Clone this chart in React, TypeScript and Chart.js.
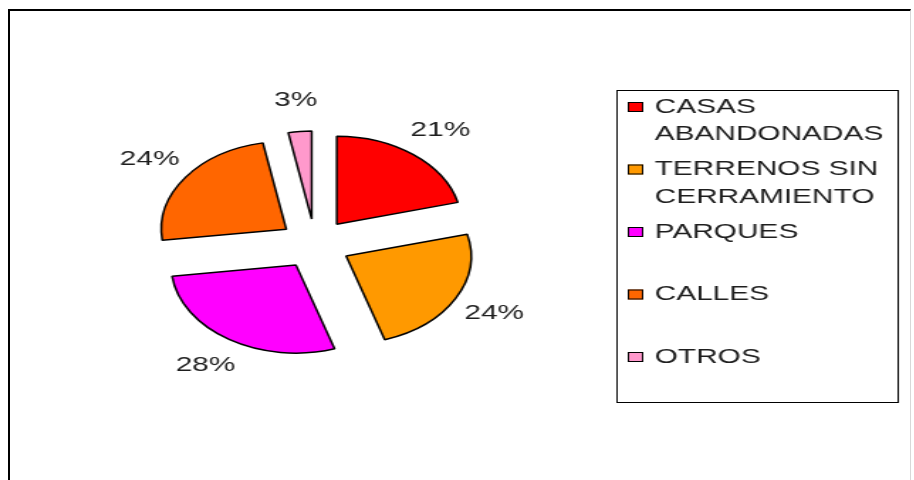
import React, { useEffect, useRef } from 'react';
import { Chart, registerables } from 'chart.js';

Chart.register(...registerables);

// ---- data ----
const CATEGORIES = ['CASAS ABANDONADAS', 'TERRENOS SIN CERRAMIENTO', 'PARQUES', 'CALLES', 'OTROS'];
const VALUES = [21, 24, 28, 24, 3];
const COLORS = ['#FF0000', '#FF9900', '#FF00FF', '#FF6600', '#FF99CC'];

// ---- layout / style ----
const STRETCH_X = 1.42; // the reference is horizontally stretched
const CANVAS_W = 638;
const CANVAS_H = 469;
const PIE_CX = 214.8;
const PIE_CY = 233;
const PIE_R = 88;
const EXPLODE = 25;
const LABEL_GAP = 31;
const FONT = '21px "Liberation Sans", Arial, sans-serif';
const TEXT_COLOR = '#1e1e1e';

const explodePlugin = {
  id: 'explodeSlices',
  beforeDatasetDraw(chart: any, args: any) {
    args.meta.data.forEach((el: any) => {
      if (el.__exploded) return;
      const base = el.draw.bind(el);
      el.draw = (ctx: CanvasRenderingContext2D, area: any) => {
        const mid = (el.startAngle + el.endAngle) / 2;
        ctx.save();
        ctx.translate(Math.cos(mid) * EXPLODE, Math.sin(mid) * EXPLODE);
        base(ctx, area);
        ctx.restore();
      };
      el.__exploded = true;
    });
  },
};

const pctLabelsPlugin = {
  id: 'pctLabels',
  afterDatasetsDraw(chart: any) {
    const ctx: CanvasRenderingContext2D = chart.ctx;
    const meta = chart.getDatasetMeta(0);
    const data: number[] = chart.data.datasets[0].data;
    const total = data.reduce((a, b) => a + b, 0);
    ctx.save();
    ctx.font = FONT;
    ctx.fillStyle = TEXT_COLOR;
    ctx.textAlign = 'center';
    ctx.textBaseline = 'middle';
    meta.data.forEach((arc: any, i: number) => {
      const { x, y, startAngle, endAngle, outerRadius } = arc.getProps(
        ['x', 'y', 'startAngle', 'endAngle', 'outerRadius'],
        true
      );
      const mid = (startAngle + endAngle) / 2;
      const r = outerRadius + EXPLODE + LABEL_GAP;
      ctx.fillText(Math.round((data[i] / total) * 100) + '%', x + Math.cos(mid) * r, y + Math.sin(mid) * r);
    });
    ctx.restore();
  },
};

const boxLegendPlugin = {
  id: 'boxLegend',
  afterDraw(chart: any) {
    const ctx: CanvasRenderingContext2D = chart.ctx;
    const labels: string[] = chart.data.labels;
    const colors: string[] = chart.data.datasets[0].backgroundColor;
    const boxL = 427.5, boxT = 79.5, boxR = 625.5, boxB = 391.5;
    const swatchX = 435, swatchW = 11, swatchH = 10;
    const textX = 454;
    const firstY = 96, itemGap = 62.5, lineGap = 27.5;
    const maxTextW = 168;
    ctx.save();
    ctx.strokeStyle = '#000';
    ctx.lineWidth = 1;
    ctx.strokeRect(boxL, boxT, boxR - boxL, boxB - boxT);
    ctx.font = FONT;
    ctx.fillStyle = TEXT_COLOR;
    ctx.textAlign = 'left';
    ctx.textBaseline = 'middle';
    labels.forEach((label, i) => {
      const cy = firstY + i * itemGap;
      const words = label.split(' ');
      const lines: string[] = [];
      let cur = '';
      words.forEach((w) => {
        const t = cur ? cur + ' ' + w : w;
        if (cur && ctx.measureText(t).width > maxTextW) {
          lines.push(cur);
          cur = w;
        } else cur = t;
      });
      if (cur) lines.push(cur);
      ctx.fillStyle = colors[i];
      ctx.fillRect(swatchX, cy - swatchH / 2, swatchW, swatchH);
      ctx.strokeStyle = '#000';
      ctx.strokeRect(swatchX + 0.5, cy - swatchH / 2 + 0.5, swatchW - 1, swatchH - 1);
      ctx.fillStyle = TEXT_COLOR;
      lines.forEach((ln, j) => ctx.fillText(ln, textX, cy + j * lineGap));
    });
    ctx.restore();
  },
};

export default function App() {
  const ref = useRef<HTMLCanvasElement>(null);
  useEffect(() => {
    const chart = new Chart(ref.current as HTMLCanvasElement, {
      type: 'pie',
      data: {
        labels: CATEGORIES,
        datasets: [
          {
            data: VALUES,
            backgroundColor: COLORS,
            borderColor: '#000',
            borderWidth: 1.5,
            offset: 0,
            hoverOffset: 0,
          },
        ],
      },
      options: {
        responsive: false,
        animation: false,
        devicePixelRatio: 1,
        events: [],
        radius: PIE_R,
        layout: {
          padding: {
            left: 0,
            top: 0,
            right: CANVAS_W - PIE_CX * 2,
            bottom: CANVAS_H - PIE_CY * 2,
          },
        },
        plugins: {
          legend: { display: false },
          tooltip: { enabled: false },
        },
      } as any,
      plugins: [explodePlugin, pctLabelsPlugin, boxLegendPlugin],
    });
    return () => chart.destroy();
  }, []);

  return (
    <div
      style={{
        position: 'fixed',
        left: 8,
        top: 9,
        width: 903,
        height: 480,
        boxSizing: 'border-box',
        borderTop: '2px solid #000',
        borderLeft: '2px solid #000',
        borderRight: '1px solid #d8d8d8',
        overflow: 'hidden',
        background: '#fff',
      }}
    >
      <canvas
        ref={ref}
        width={CANVAS_W}
        height={CANVAS_H}
        style={{
          position: 'absolute',
          left: 0,
          top: 0,
          transform: `scaleX(${STRETCH_X})`,
          transformOrigin: '0 0',
        }}
      />
    </div>
  );
}
